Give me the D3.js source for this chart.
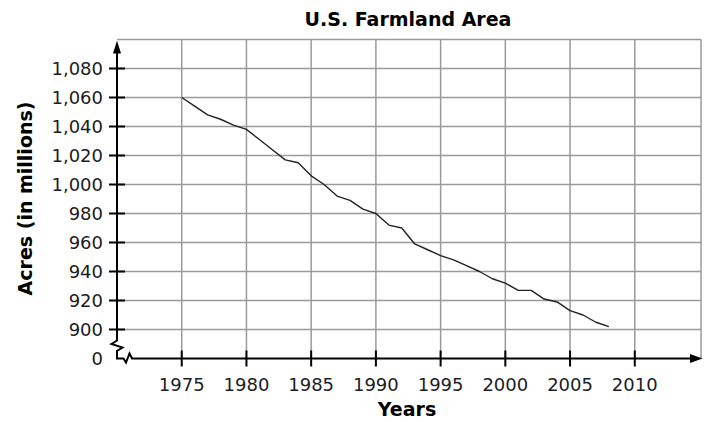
<!DOCTYPE html>
<html>
<head>
<meta charset="utf-8">
<script src="https://cdn.jsdelivr.net/npm/d3@7"></script>
<style>
  body { margin: 0; background: #fff; }
  text { font-family: "DejaVu Sans", Verdana, sans-serif; fill: #1c1c24; }
</style>
</head>
<body>
<svg width="708" height="422"></svg>
<script>
// data (acres, millions)
var years = [1975, 1976, 1977, 1978, 1979, 1980, 1981, 1982, 1983, 1984, 1985, 1986,
  1987, 1988, 1989, 1990, 1991, 1992, 1993, 1994, 1995, 1996, 1997, 1998, 1999,
  2000, 2001, 2002, 2003, 2004, 2005, 2006, 2007, 2008]
var acres = [1060, 1054, 1048, 1045, 1041, 1038, 1031, 1024, 1017, 1015, 1006, 1000,
  992, 989, 983, 980, 972, 970, 959, 955, 951, 948, 944, 940, 935,
  932, 927, 927, 921, 919, 913, 910, 905, 902]

var xTicks = [1975, 1980, 1985, 1990, 1995, 2000, 2005, 2010]
var yTicks = [0, 900, 920, 940, 960, 980, 1000, 1020, 1040, 1060, 1080]
var yGrid = [900, 920, 940, 960, 980, 1000, 1020, 1040, 1060, 1080, 1100]

var svg = d3.select('svg')

var x = d3.scaleLinear().domain([1970, 2015]).range([117, 699.5])
// broken axis: 0 sits one step below 900
var y = d3.scaleLinear().domain([0, 900, 1100]).range([358.5, 329.5, 39.5])

var plotLeft = x(1970), plotRight = 701, plotTop = y(1100), plotBottom = y(0)

// grid
var grid = svg.append('g').attr('stroke', '#9a9a9a').attr('stroke-width', 1.5)
grid.selectAll('line.h')
  .data(yGrid)
  .join('line')
  .attr('class', 'h')
  .attr('x1', plotLeft).attr('x2', plotRight)
  .attr('y1', function(d) { return y(d) })
  .attr('y2', function(d) { return y(d) })
grid.selectAll('line.v')
  .data(xTicks)
  .join('line')
  .attr('class', 'v')
  .attr('x1', function(d) { return x(d) })
  .attr('x2', function(d) { return x(d) })
  .attr('y1', plotTop).attr('y2', plotBottom)
grid.append('line')
  .attr('x1', plotRight).attr('x2', plotRight)
  .attr('y1', plotTop).attr('y2', plotBottom)

// data line
var line = d3.line()
  .x(function(d, i) { return x(years[i]) })
  .y(function(d) { return y(d) })

svg.append('path')
  .datum(acres)
  .attr('d', line)
  .attr('fill', 'none')
  .attr('stroke', '#222')
  .attr('stroke-width', 1.4)
  .attr('stroke-linejoin', 'round')

// axes with break marks
var axes = svg.append('g').attr('stroke', '#000').attr('stroke-width', 2).attr('fill', 'none')
axes.append('path')
  .attr('d', 'M' + plotLeft + ',' + (plotTop + 10) + 'V340.5L111.5,344L122.5,347.5L' + plotLeft + ',351V' + plotBottom
    + 'H123.5L126,362.5L129.5,353.5L132,' + plotBottom + 'H' + (plotRight - 8))

// arrow heads
svg.append('path')
  .attr('d', 'M' + plotLeft + ',' + (plotTop + 1) + 'L' + (plotLeft + 4) + ',' + (plotTop + 14)
    + 'L' + (plotLeft - 4) + ',' + (plotTop + 14) + 'Z')
  .attr('fill', '#000')
svg.append('path')
  .attr('d', 'M' + (plotRight + 1.5) + ',' + plotBottom + 'L' + (plotRight - 11) + ',' + (plotBottom - 4.5)
    + 'L' + (plotRight - 11) + ',' + (plotBottom + 4.5) + 'Z')
  .attr('fill', '#000')

// ticks
axes.selectAll('line.yt')
  .data(yTicks.slice(1))
  .join('line')
  .attr('class', 'yt')
  .attr('x1', plotLeft - 8).attr('x2', plotLeft + 8)
  .attr('y1', function(d) { return y(d) })
  .attr('y2', function(d) { return y(d) })
axes.selectAll('line.xt')
  .data(xTicks)
  .join('line')
  .attr('class', 'xt')
  .attr('x1', function(d) { return x(d) })
  .attr('x2', function(d) { return x(d) })
  .attr('y1', plotBottom - 8).attr('y2', plotBottom + 8)

// tick labels
svg.selectAll('text.yl')
  .data(yTicks)
  .join('text')
  .attr('class', 'yl')
  .attr('x', 103)
  .attr('y', function(d) { return y(d) })
  .attr('dy', '0.36em')
  .attr('text-anchor', 'end')
  .style('font-size', '18px')
  .text(function(d) { return d3.format(',')(d) })

svg.selectAll('text.xl')
  .data(xTicks)
  .join('text')
  .attr('class', 'xl')
  .attr('x', function(d) { return x(d) })
  .attr('y', 391)
  .attr('text-anchor', 'middle')
  .style('font-size', '18px')
  .text(function(d) { return d })

// titles
svg.append('text')
  .attr('x', 408).attr('y', 25.5)
  .attr('text-anchor', 'middle')
  .style('font-size', '19px').style('font-weight', 'bold')
  .style('fill', '#000')
  .text('U.S. Farmland Area')

svg.append('text')
  .attr('x', 407).attr('y', 416)
  .attr('text-anchor', 'middle')
  .style('font-size', '19px').style('font-weight', 'bold')
  .style('fill', '#000')
  .text('Years')

svg.append('text')
  .attr('transform', 'translate(32,198.5) rotate(-90)')
  .attr('text-anchor', 'middle')
  .style('font-size', '19px').style('font-weight', 'bold')
  .style('fill', '#000')
  .text('Acres (in millions)')
</script>
</body>
</html>
